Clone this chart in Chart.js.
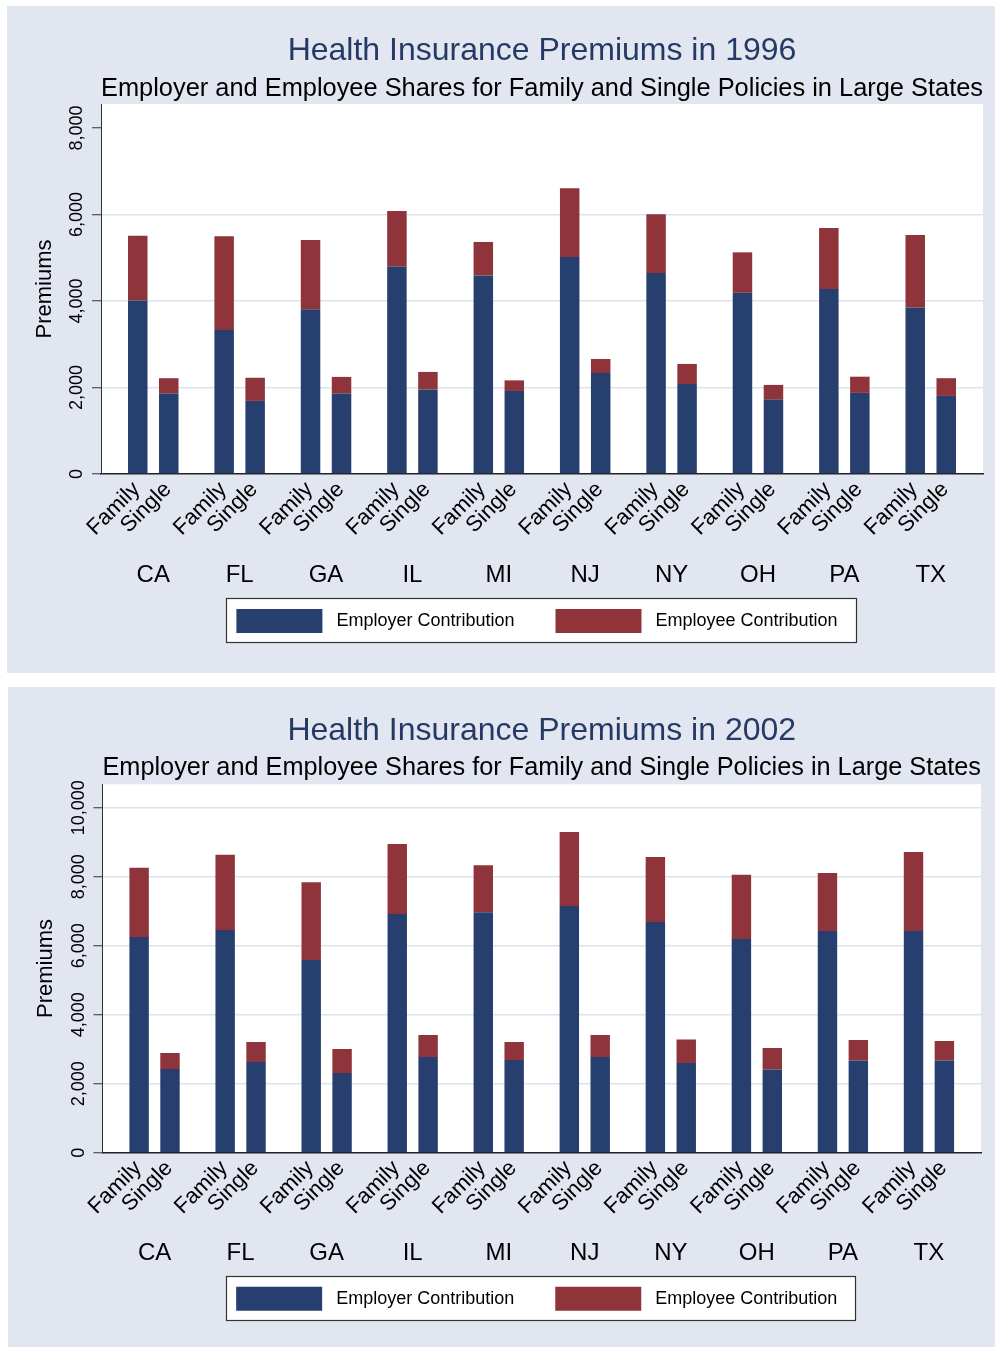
<!DOCTYPE html>
<html lang="en">
<head>
<meta charset="UTF-8">
<title>Health Insurance Premiums</title>
<script src="https://cdn.jsdelivr.net/npm/chart.js"></script>
<style>
    body {
        margin: 0;
        background: #fff;
        font-family: "Liberation Sans", Arial, sans-serif;
    }
    .panel {
        position: absolute;
        background: #e1e6f0;
    }
    #p1 { left: 7px; top: 6px; width: 988px; height: 667px; }
    #p2 { left: 8px; top: 687px; width: 987px; height: 660px; }
    canvas { display: block; }
</style>
</head>
<body>
<div class="panel" id="p1"><canvas id="c1" width="988" height="667"></canvas></div>
<div class="panel" id="p2"><canvas id="c2" width="987" height="660"></canvas></div>

<script>
// categories and labels
const states = ['CA', 'FL', 'GA', 'IL', 'MI', 'NJ', 'NY', 'OH', 'PA', 'TX'];
const policyLabels = ['Family', 'Single'];
const seriesNames = ['Employer Contribution', 'Employee Contribution'];

// 1996 premiums (dollars)
const employerFamily1996 = [4010, 3330, 3810, 4790, 4590, 5020, 4650, 4190, 4280, 3850];
const employeeFamily1996 = [1500, 2165, 1600, 1290, 775, 1585, 1355, 935, 1410, 1675];
const employerSingle1996 = [1860, 1690, 1860, 1950, 1920, 2335, 2080, 1720, 1875, 1805];
const employeeSingle1996 = [355, 535, 385, 410, 245, 325, 465, 340, 375, 410];
const yTicks1996 = [0, 2000, 4000, 6000, 8000];

// 2002 premiums (dollars)
const employerFamily2002 = [6250, 6455, 5585, 6920, 6970, 7150, 6690, 6195, 6425, 6425];
const employeeFamily2002 = [2010, 2185, 2255, 2030, 1360, 2145, 1880, 1865, 1680, 2290];
const employerSingle2002 = [2425, 2630, 2310, 2775, 2690, 2775, 2600, 2415, 2675, 2675];
const employeeSingle2002 = [465, 580, 695, 635, 520, 635, 685, 620, 590, 565];
const yTicks2002 = [0, 2000, 4000, 6000, 8000, 10000];

const NAVY = '#273f6e';
const MAROON = '#8f343b';
const FONT = '"Liberation Sans", Arial, Helvetica, sans-serif';

Chart.defaults.font.family = FONT;
Chart.defaults.color = '#000';

// white plot region + framed legend background
const plotBg = {
    id: 'plotBg',
    beforeDraw(chart) {
        const a = chart.chartArea, ctx = chart.ctx;
        ctx.save();
        ctx.fillStyle = '#fff';
        ctx.fillRect(a.left, a.top, a.right - a.left, a.bottom - a.top);
        const boxes = chart.legend.legendHitBoxes;
        if (boxes && boxes.length) {
            const first = boxes[0], last = boxes[boxes.length - 1];
            const x0 = Math.round(first.left - 10) + 0.5;
            const x1 = Math.round(last.left + last.width + 8) + 0.5;
            const y0 = Math.round(first.top - 11) + 0.5;
            const y1 = Math.round(first.top + first.height + 9) + 0.5;
            ctx.fillRect(x0, y0, x1 - x0, y1 - y0);
            ctx.strokeStyle = '#333';
            ctx.lineWidth = 1.2;
            ctx.strokeRect(x0, y0, x1 - x0, y1 - y0);
        }
        ctx.restore();
    }
};

// rotated Family / Single labels under each bar
const policyTicks = {
    id: 'policyTicks',
    afterDraw(chart) {
        const ctx = chart.ctx, y0 = chart.scales.x.top;
        ctx.save();
        ctx.font = '22px ' + FONT;
        ctx.fillStyle = '#000';
        ctx.textAlign = 'right';
        ctx.textBaseline = 'middle';
        [0, 2].forEach((di, k) => {
            chart.getDatasetMeta(di).data.forEach(bar => {
                ctx.save();
                ctx.translate(bar.x - 1, y0 + 12);
                ctx.rotate(-Math.PI / 4);
                ctx.fillText(policyLabels[k], 0, 0);
                ctx.restore();
            });
        });
        ctx.restore();
    }
};

function makeChart(id, year, data, yTicks, L) {
    const ctx = document.getElementById(id).getContext('2d');
    return new Chart(ctx, {
        type: 'bar',
        data: {
            labels: states,
            datasets: [
                { label: seriesNames[0], data: data[0], backgroundColor: NAVY, stack: 'family' },
                { label: seriesNames[1], data: data[1], backgroundColor: MAROON, stack: 'family' },
                { label: seriesNames[0], data: data[2], backgroundColor: NAVY, stack: 'single' },
                { label: seriesNames[1], data: data[3], backgroundColor: MAROON, stack: 'single' }
            ]
        },
        options: {
            responsive: false,
            devicePixelRatio: 1,
            animation: false,
            categoryPercentage: 0.7176,
            barPercentage: 0.629,
            borderWidth: 0,
            layout: { padding: { left: 0, right: L.padRight, top: 0, bottom: L.padBottom } },
            plugins: {
                tooltip: { enabled: false },
                title: {
                    display: true,
                    fullSize: false,
                    text: 'Health Insurance Premiums in ' + year,
                    color: '#243a64',
                    font: { size: 32, weight: 'normal', lineHeight: 1 },
                    padding: { top: L.titleTop, bottom: 0 }
                },
                subtitle: {
                    display: true,
                    fullSize: false,
                    text: 'Employer and Employee Shares for Family and Single Policies in Large States',
                    color: '#000',
                    font: { size: 26.3, weight: 'normal', lineHeight: 1 },
                    padding: { top: L.subTop, bottom: L.subBottom }
                },
                legend: {
                    position: 'bottom',
                    fullSize: false,
                    labels: {
                        boxWidth: 86,
                        boxHeight: 24,
                        padding: 41,
                        color: '#000',
                        font: { size: 18 },
                        filter: item => item.datasetIndex < 2,
                        // trailing spaces on the last entry shift the row a little left, as in the original
                        generateLabels: chart => chart.data.datasets.map((ds, i) => ({
                            text: ' ' + ds.label + (i === 1 ? '  ' : ''),
                            fillStyle: ds.backgroundColor,
                            strokeStyle: ds.backgroundColor,
                            lineWidth: 0,
                            datasetIndex: i
                        }))
                    }
                }
            },
            scales: {
                x: {
                    grid: { drawOnChartArea: false, drawTicks: true, tickLength: 86, tickColor: 'rgba(0,0,0,0)' },
                    border: { color: '#222', width: 1.5 },
                    ticks: { font: { size: 24 }, color: '#000', padding: L.xTickPad, maxRotation: 0, autoSkip: false },
                    afterBuildTicks(s) {
                        // Stata leaves a wider margin at both ends of the category axis
                        s._startValue -= 0.105;
                        s._valueRange += 0.21;
                    },
                    afterFit(s) {
                        s.height = L.xHeight;
                        // state labels sit below the axis box, above the legend
                        s._computeLabelArea = () => null;
                    }
                },
                y: {
                    stacked: true,
                    min: 0,
                    max: L.yMax,
                    border: { color: '#333', width: 1 },
                    grid: {
                        color: c => (c.tick && (c.tick.value === 0 || L.noGrid.includes(c.tick.value)))
                            ? 'rgba(0,0,0,0)' : '#dde3ee',
                        lineWidth: 1.5,
                        tickLength: 9,
                        tickColor: '#333',
                        tickWidth: 1
                    },
                    afterBuildTicks(s) {
                        s.ticks = yTicks.map(v => ({ value: v }));
                    },
                    ticks: {
                        autoSkip: false,
                        minRotation: 90,
                        maxRotation: 90,
                        crossAlign: 'center',
                        padding: L.yTickPad,
                        font: { size: 18 },
                        color: '#000',
                        callback: v => v.toLocaleString('en-US')
                    },
                    title: {
                        display: true,
                        text: 'Premiums',
                        color: '#000',
                        font: { size: 22 },
                        padding: { top: 25, bottom: 0 }
                    },
                    afterFit(s) { s.width = L.yWidth; }
                }
            }
        },
        plugins: [plotBg, policyTicks]
    });
}

makeChart('c1', 1996,
    [employerFamily1996, employeeFamily1996, employerSingle1996, employeeSingle1996], yTicks1996,
    { padRight: 12, padBottom: 30, titleTop: 29, subTop: 8.85, subBottom: 1.85, noGrid: [8000],
      xHeight: 94, xTickPad: 0.6, yWidth: 94, yTickPad: -8, yMax: 8555 });

makeChart('c2', 2002,
    [employerFamily2002, employeeFamily2002, employerSingle2002, employeeSingle2002], yTicks2002,
    { padRight: 14, padBottom: 26.3, titleTop: 28, subTop: 7.85, subBottom: 3.15, noGrid: [],
      xHeight: 93, xTickPad: 0.3, yWidth: 94.5, yTickPad: -13, yMax: 10680 });
</script>
</body>
</html>
